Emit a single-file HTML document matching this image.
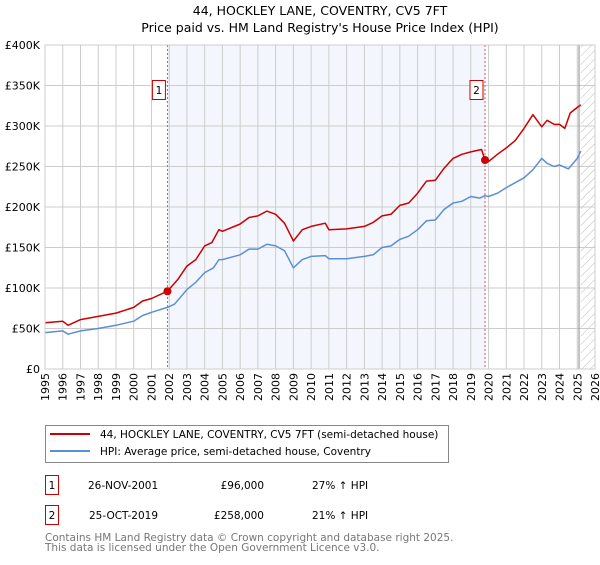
<!DOCTYPE html>
<html><head><meta charset="utf-8"><style>
body{margin:0;background:#fff;font-family:"Liberation Sans","DejaVu Sans",sans-serif;}
svg text{font-family:"DejaVu Sans","Liberation Sans",sans-serif;}
</style></head><body>
<svg id="c" width="600" height="560">
<defs><pattern id="hatch" width="6" height="6" patternUnits="userSpaceOnUse" patternTransform="rotate(45)"><line x1="0" y1="0" x2="0" y2="6" stroke="#bbb" stroke-width="1"/></pattern></defs>
<text x="320" y="15" text-anchor="middle" font-size="12.5">44, HOCKLEY LANE, COVENTRY, CV5 7FT</text>
<text x="320" y="32" text-anchor="middle" font-size="12.5">Price paid vs. HM Land Registry's House Price Index (HPI)</text>
<g id="plot"></g>
<g>
<rect x="45.5" y="425.5" width="403" height="37" fill="#fff" stroke="#888"/>
<line x1="50" y1="434" x2="90" y2="434" stroke="#cc0000" stroke-width="2"/>
<text x="100" y="438" font-size="10.5">44, HOCKLEY LANE, COVENTRY, CV5 7FT (semi-detached house)</text>
<line x1="50" y1="451" x2="90" y2="451" stroke="#5b8fd4" stroke-width="2"/>
<text x="100" y="455" font-size="10.5">HPI: Average price, semi-detached house, Coventry</text>
</g>
<g font-size="10.5">
<rect x="45.5" y="475.5" width="13" height="19" fill="#fff" stroke="#cc0000"/><text x="52" y="489" text-anchor="middle">1</text>
<text x="88" y="489">26-NOV-2001</text><text x="264" y="489" text-anchor="end">£96,000</text><text x="312" y="489">27% ↑ HPI</text>
<rect x="45.5" y="505.5" width="13" height="19" fill="#fff" stroke="#cc0000"/><text x="52" y="519" text-anchor="middle">2</text>
<text x="89" y="519">25-OCT-2019</text><text x="264" y="519" text-anchor="end">£258,000</text><text x="312" y="519">21% ↑ HPI</text>
</g>
<text x="45" y="541" font-size="10.5" fill="#777">Contains HM Land Registry data © Crown copyright and database right 2025.</text>
<text x="45" y="551" font-size="10.5" fill="#777">This data is licensed under the Open Government Licence v3.0.</text>
</svg>
<script>
const hpiYears=[1995,1996,1996.3,1997,1998,1999,2000,2000.5,2001,2001.9,2002.3,2003,2003.5,2004,2004.5,2004.8,2005,2005.5,2006,2006.5,2007,2007.5,2008,2008.5,2009,2009.5,2010,2010.8,2011,2012,2013,2013.5,2014,2014.5,2015,2015.5,2016,2016.5,2017,2017.5,2018,2018.5,2019,2019.5,2019.8,2020,2020.5,2021,2021.5,2022,2022.5,2023,2023.3,2023.7,2024,2024.5,2025,2025.2];
const hpiValues=[45,47,43,47,50,54,59,66,70,76,80,98,107,119,125,135,135,138,141,148,148,154,152,146,125,135,139,140,136,136,139,141,150,152,160,164,172,183,184,197,205,207,213,211,214,213,217,224,230,236,246,260,254,250,252,247,260,269];
const priceYears=[1995,1996,1996.3,1997,1998,1999,2000,2000.5,2001,2001.9,2002.5,2003,2003.5,2004,2004.4,2004.8,2005,2006,2006.5,2007,2007.5,2008,2008.5,2009,2009.5,2010,2010.8,2011,2012,2013,2013.5,2014,2014.5,2015,2015.5,2016,2016.5,2017,2017.5,2018,2018.5,2019,2019.6,2019.8,2020,2020.5,2021,2021.5,2022,2022.5,2023,2023.3,2023.7,2024,2024.3,2024.6,2025,2025.2];
const priceValues=[57,59,54,61,65,69,76,84,87,96,111,127,135,152,156,172,170,179,187,189,195,191,180,158,172,176,180,172,173,176,181,189,191,202,205,217,232,233,248,260,265,268,271,258,256,265,273,282,297,314,299,307,302,302,297,316,323,326];
const saleYears=[2001.9,2019.8];
const saleValues=[96,258];
const saleLabels=["1","2"];
const yTicks=[0,50,100,150,200,250,300,350,400];
const yTickLabels=["£0","£50K","£100K","£150K","£200K","£250K","£300K","£350K","£400K"];
const xTicks=[1995,1996,1997,1998,1999,2000,2001,2002,2003,2004,2005,2006,2007,2008,2009,2010,2011,2012,2013,2014,2015,2016,2017,2018,2019,2020,2021,2022,2023,2024,2025,2026];
const X0=45,X1=595,Y0=369,Y1=45;
const xs=y=>X0+(y-1995)/(2026-1995)*(X1-X0);
const ys=v=>Y0-v/400*(Y0-Y1);
const NS="http://www.w3.org/2000/svg";
const g=document.getElementById('plot');
function mk(t,a,p){const e=document.createElementNS(NS,t);for(const k in a)e.setAttribute(k,a[k]);(p||g).appendChild(e);return e;}
let e;
e=mk('rect',{x:X0,y:Y1,width:X1-X0,height:Y0-Y1,fill:'#fff'});


e=mk('rect',{x:xs(saleYears[0]),y:Y1,width:xs(saleYears[1])-xs(saleYears[0]),height:Y0-Y1,fill:'#eef3fc',opacity:0.7});


e=mk('rect',{x:xs(2025.2),y:Y1,width:X1-xs(2025.2),height:Y0-Y1,fill:'url(#hatch)'});


xTicks.forEach(t=>{e=mk('line',{x1:xs(t),x2:xs(t),y1:Y1,y2:Y0,stroke:'#ccc'});


e=mk('text',{x:0,y:0,'font-size':11,'text-anchor':'end',transform:`translate(${xs(t)+4},${Y0+4}) rotate(-90)`});e.textContent=t;

});
yTicks.forEach((t,i)=>{e=mk('line',{x1:X0,x2:X1,y1:ys(t),y2:ys(t),stroke:'#ccc'});


e=mk('text',{x:X0-5,y:ys(t)+4,'font-size':11,'text-anchor':'end'});e.textContent=yTickLabels[i];

});
e=mk('line',{x1:xs(2025.1),x2:xs(2025.1),y1:Y1,y2:Y0,stroke:'#888','stroke-width':1});


saleYears.forEach((s,i)=>{e=mk('line',{x1:xs(s),x2:xs(s),y1:Y1,y2:Y0,stroke:'#e05050','stroke-dasharray':'2,2'});

});
function path(xa,va,col,name){e=mk('path',{d:xa.map((x,i)=>(i?'L':'M')+xs(x).toFixed(1)+','+ys(va[i]).toFixed(1)).join(''),fill:'none',stroke:col,'stroke-width':1.5,'stroke-linejoin':'round'});

}
path(hpiYears,hpiValues,'#5b8fd4','hpi-line');
path(priceYears,priceValues,'#cc0000','price-paid-line');
saleYears.forEach((s,i)=>{e=mk('circle',{cx:xs(s),cy:ys(saleValues[i]),r:4,fill:'#cc0000'});


const bx=xs(s)-15;
e=mk('rect',{x:bx,y:80.5,width:13,height:19,fill:'#fff',stroke:'#cc0000'});


e=mk('text',{x:bx+6.5,y:94,'font-size':10.5,'text-anchor':'middle'});e.textContent=saleLabels[i];

});
e=mk('rect',{x:X0,y:Y1,width:X1-X0,height:Y0-Y1,fill:'none',stroke:'#ccc'});


</script>
</body></html>
